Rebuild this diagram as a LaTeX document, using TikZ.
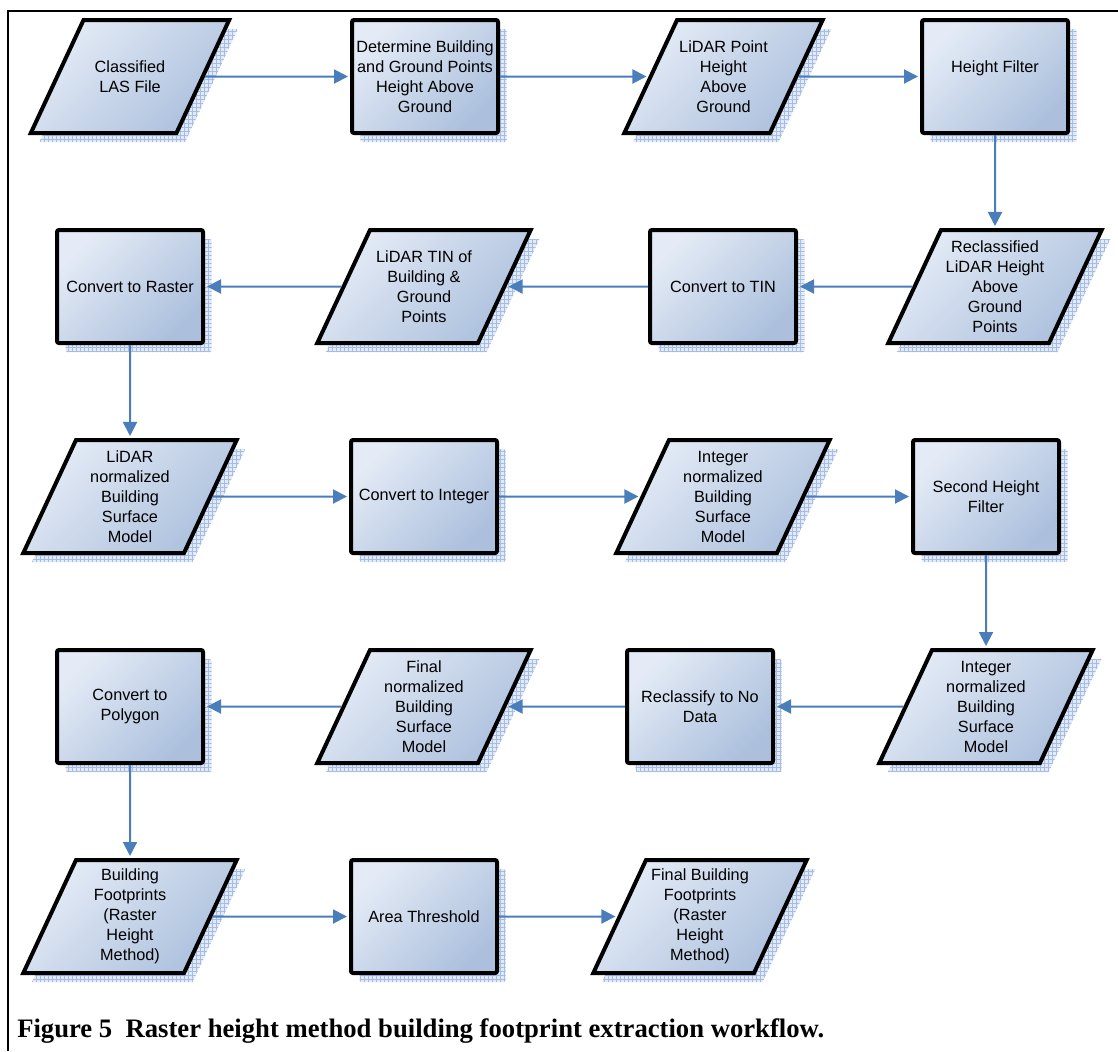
\documentclass[tikz,border=0pt]{standalone}
\usepackage{fontspec}
\setmainfont{Liberation Serif}
\setsansfont{Liberation Sans}
\usetikzlibrary{shapes.geometric,shadows,patterns,arrows.meta}
\definecolor{boxlight}{RGB}{228,235,246}
\definecolor{boxdark}{RGB}{172,192,221}
\definecolor{flowblue}{RGB}{74,126,187}
\definecolor{hatchblue}{RGB}{165,188,228}
\definecolor{hatchfill}{RGB}{226,233,247}
\tikzset{
  hatchshadow/.style={general shadow={shadow xshift=6.5pt, shadow yshift=-6.8pt, fill=hatchfill},
    general shadow={shadow xshift=6.5pt, shadow yshift=-6.8pt, pattern=grid, pattern color=hatchblue}},
  box/.style={hatchshadow, draw=black, line width=3pt, top color=boxlight, bottom color=boxdark,
    shading angle=45, font=\sffamily\fontsize{12.2}{15}\selectfont, align=center, inner sep=1pt},
  process/.style={box, rectangle, rounded corners=1.5pt, minimum width=109.5pt, minimum height=84.75pt},
  data/.style={box, trapezium, trapezium left angle=65, trapezium right angle=115, inner sep=0pt},
  flow/.style={draw=flowblue, line width=1.5pt, -{Triangle[length=10.5pt,width=10.5pt]}, shorten >=1.5pt}
}
% text block of a data node: its size fixes the parallelogram
\newcommand{\dtext}[2][81pt]{\parbox[c][84.75pt][c]{#1}{\centering #2}}
\begin{document}
\begin{tikzpicture}[x=0.75pt, y=-0.75pt]
	\useasboundingbox (0,0) rectangle (1118,1051);
	\draw[line width=1.5pt] (7.5,1051) -- (7.5,10.5) -- (1118,10.5);
	% row 1
	\node[data] (las) at (130,76.5) {\dtext[69.7pt]{Classified\\LAS File}};
	\node[process] (det) at (425,76.5) {Determine Building\\and Ground Points\\Height Above\\Ground};
	\node[data] (hag) at (723.5,76.5) {\dtext[69.7pt]{LiDAR Point\\Height\\Above\\Ground}};
	\node[process] (hfilt) at (995,76.5) {Height Filter\\~};
	% row 2
	\node[data] (recl) at (995,286.5) {\dtext{Reclassified\\LiDAR Height\\Above\\Ground\\Points}};
	\node[process] (totin) at (723,286.5) {Convert to TIN};
	\node[data] (tin) at (424,286.5) {\dtext{LiDAR TIN of\\Building \&\\Ground\\Points}};
	\node[process] (toras) at (130,286.5) {Convert to Raster};
	% row 3
	\node[data] (nbsm) at (130,496.5) {\dtext{LiDAR\\normalized\\Building\\Surface\\Model}};
	\node[process] (toint) at (424,496.5) {Convert to Integer};
	\node[data] (inbsm) at (723,496.5) {\dtext{Integer\\normalized\\Building\\Surface\\Model}};
	\node[process] (hfilt2) at (986,496.5) {Second Height\\Filter};
	% row 4
	\node[data] (inbsm2) at (986,706.5) {\dtext{Integer\\normalized\\Building\\Surface\\Model}};
	\node[process] (nodata) at (700,706.5) {Reclassify to No\\Data};
	\node[data] (fnbsm) at (424,706.5) {\dtext{Final\\normalized\\Building\\Surface\\Model}};
	\node[process] (topoly) at (130,706.5) {Convert to\\Polygon};
	% row 5
	\node[data] (bfp) at (130,916.5) {\dtext{Building\\Footprints\\(Raster\\Height\\Method)}};
	\node[process] (area) at (424,916.5) {Area Threshold};
	\node[data] (fbfp) at (700,916.5) {\dtext{Final Building\\Footprints\\(Raster\\Height\\Method)}};
	% connectors
	\draw[flow] (las.east) -- (det.west);
	\draw[flow] (det.east) -- (hag.west);
	\draw[flow] (hag.east) -- (hfilt.west);
	\draw[flow] (hfilt.south) -- (recl.north);
	\draw[flow] (recl.west) -- (totin.east);
	\draw[flow] (totin.west) -- (tin.east);
	\draw[flow] (tin.west) -- (toras.east);
	\draw[flow] (toras.south) -- (nbsm.north);
	\draw[flow] (nbsm.east) -- (toint.west);
	\draw[flow] (toint.east) -- (inbsm.west);
	\draw[flow] (inbsm.east) -- (hfilt2.west);
	\draw[flow] (hfilt2.south) -- (inbsm2.north);
	\draw[flow] (inbsm2.west) -- (nodata.east);
	\draw[flow] (nodata.west) -- (fnbsm.east);
	\draw[flow] (fnbsm.west) -- (topoly.east);
	\draw[flow] (topoly.south) -- (bfp.north);
	\draw[flow] (bfp.east) -- (area.west);
	\draw[flow] (area.east) -- (fbfp.west);
	\node[anchor=base west, inner sep=0pt, font=\bfseries\fontsize{20}{24}\selectfont] (cap) at (17,1037)
		{Figure 5~~Raster height method building footprint extraction workflow.};
\end{tikzpicture}
\end{document}
